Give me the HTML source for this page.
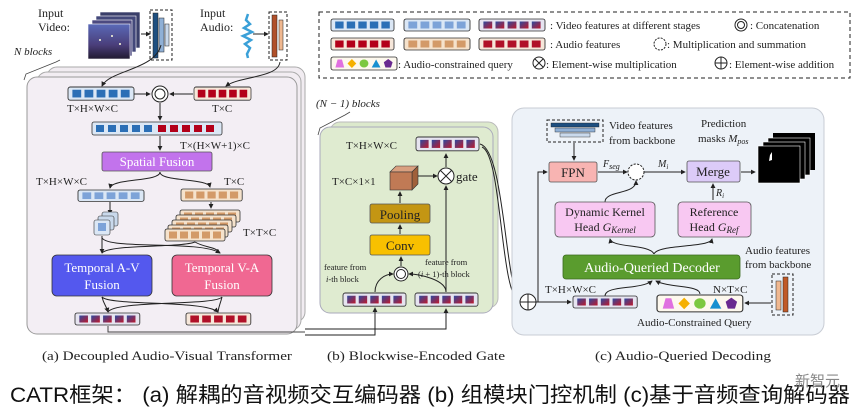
<!DOCTYPE html>
<html><head><meta charset="utf-8">
<style>
html,body{margin:0;padding:0;background:#fff;}
svg{display:block;}
text{font-family:"Liberation Serif","Noto Serif CJK SC",serif;fill:#222;}
.s{font-family:"Liberation Sans","Noto Sans CJK SC",sans-serif;}
</style></head><body>
<svg width="865" height="418" viewBox="0 0 865 418" xmlns="http://www.w3.org/2000/svg">
<defs>
<linearGradient id="mg" x1="0" y1="0" x2="1" y2="1"><stop offset="0" stop-color="#2c4aa0"/><stop offset="1" stop-color="#c0182a"/></linearGradient>
<linearGradient id="vid" x1="0" y1="0" x2="0" y2="1"><stop offset="0" stop-color="#5a6ab8"/><stop offset="0.6" stop-color="#4a3e7a"/><stop offset="1" stop-color="#201a30"/></linearGradient>
<marker id="ar" viewBox="0 0 6 6" refX="5" refY="3" markerWidth="5" markerHeight="5" orient="auto"><path d="M0,0L6,3L0,6z" fill="#222"/></marker>
<g id="vb"><rect x="0" y="0" width="60" height="12" rx="2" fill="#dbe7f5" stroke="#333" stroke-width="0.8"/><rect x="4" y="2.5" width="8" height="7" fill="#2b6fb6"/><rect x="15" y="2.5" width="8" height="7" fill="#2b6fb6"/><rect x="26" y="2.5" width="8" height="7" fill="#2b6fb6"/><rect x="37" y="2.5" width="8" height="7" fill="#2b6fb6"/><rect x="48" y="2.5" width="8" height="7" fill="#2b6fb6"/></g>
<g id="ab"><rect x="0" y="0" width="60" height="12" rx="2" fill="#f6e7da" stroke="#333" stroke-width="0.8"/><rect x="4" y="2.5" width="8" height="7" fill="#b3001a"/><rect x="15" y="2.5" width="8" height="7" fill="#b3001a"/><rect x="26" y="2.5" width="8" height="7" fill="#b3001a"/><rect x="37" y="2.5" width="8" height="7" fill="#b3001a"/><rect x="48" y="2.5" width="8" height="7" fill="#b3001a"/></g>
<g id="vt"><rect x="0" y="0" width="60" height="12" rx="2" fill="#dbe7f5" stroke="#333" stroke-width="0.8"/><rect x="4" y="2.5" width="8" height="7" fill="#7da3d8"/><rect x="15" y="2.5" width="8" height="7" fill="#7da3d8"/><rect x="26" y="2.5" width="8" height="7" fill="#7da3d8"/><rect x="37" y="2.5" width="8" height="7" fill="#7da3d8"/><rect x="48" y="2.5" width="8" height="7" fill="#7da3d8"/></g>
<g id="at"><rect x="0" y="0" width="60" height="12" rx="2" fill="#f5e2cc" stroke="#333" stroke-width="0.8"/><rect x="4" y="2.5" width="8" height="7" fill="#d39a68"/><rect x="15" y="2.5" width="8" height="7" fill="#d39a68"/><rect x="26" y="2.5" width="8" height="7" fill="#d39a68"/><rect x="37" y="2.5" width="8" height="7" fill="#d39a68"/><rect x="48" y="2.5" width="8" height="7" fill="#d39a68"/></g>
<g id="mb"><rect x="0" y="0" width="60" height="12" rx="2" fill="#e6e4f0" stroke="#333" stroke-width="0.8"/><rect x="4" y="2.5" width="8" height="7" fill="url(#mg)"/><rect x="15" y="2.5" width="8" height="7" fill="url(#mg)"/><rect x="26" y="2.5" width="8" height="7" fill="url(#mg)"/><rect x="37" y="2.5" width="8" height="7" fill="url(#mg)"/><rect x="48" y="2.5" width="8" height="7" fill="url(#mg)"/></g>
<g id="ab2"><rect x="0" y="0" width="60" height="12" rx="2" fill="#f6e7da" stroke="#333" stroke-width="0.8"/><rect x="4" y="2.5" width="8" height="7" fill="#b01028"/><rect x="15" y="2.5" width="8" height="7" fill="#b01028"/><rect x="26" y="2.5" width="8" height="7" fill="#b01028"/><rect x="37" y="2.5" width="8" height="7" fill="#b01028"/><rect x="48" y="2.5" width="8" height="7" fill="#b01028"/></g>
<g id="q"><rect x="0" y="0" width="60" height="13" rx="2" fill="#fdf8ee" stroke="#333" stroke-width="0.8"/><path d="M4,10.5L6,2.5H10L12,10.5z" fill="#e070e0"/><path d="M19,2L23,6.5L19,11L15,6.5z" fill="#f5b000"/><circle cx="30" cy="6.5" r="4" fill="#7cc840"/><path d="M41,2.5L45,10.5H37z" fill="#1890d0"/><path d="M52,2L56,5.2L54.5,10.5H49.5L48,5.2z" fill="#6a2a90"/></g>
</defs>

<!-- Legend -->
<rect x="319" y="12" width="531" height="66" fill="none" stroke="#222" stroke-dasharray="4,3"/>
<use href="#vb" transform="translate(331,19) scale(1.05,1)"/>
<use href="#vt" transform="translate(404,19) scale(1.1,1)"/>
<use href="#mb" transform="translate(479,19) scale(1.1,1)"/>
<text x="550" y="29" font-size="11">: Video features at different stages</text>
<circle cx="741" cy="25" r="6" fill="none" stroke="#222"/><circle cx="741" cy="25" r="3.5" fill="none" stroke="#222"/>
<text x="750" y="29" font-size="11">: Concatenation</text>
<use href="#ab" transform="translate(331,38) scale(1.05,1)"/>
<use href="#at" transform="translate(404,38) scale(1.1,1)"/>
<use href="#ab2" transform="translate(479,38) scale(1.1,1)"/>
<text x="550" y="48" font-size="11">: Audio features</text>
<circle cx="660" cy="44" r="6" fill="none" stroke="#222" stroke-dasharray="2,1.2"/>
<text x="667" y="48" font-size="11">: Multiplication and summation</text>
<use href="#q" transform="translate(331,57) scale(1.1,1)"/>
<text x="398" y="68" font-size="11">: Audio-constrained query</text>
<circle cx="539" cy="63" r="6" fill="none" stroke="#222"/><path d="M535,59L543,67M543,59L535,67" stroke="#222"/>
<text x="546" y="68" font-size="11">: Element-wise multiplication</text>
<circle cx="721" cy="63" r="6" fill="none" stroke="#222"/><path d="M715,63H727M721,57V69" stroke="#222"/>
<text x="729" y="68" font-size="11">: Element-wise addition</text>

<!-- Panel a -->
<text x="38" y="17" font-size="12">Input</text>
<text x="38" y="31" font-size="12">Video:</text>
<g stroke="#fff" stroke-width="0.6"><rect x="100" y="12" width="40" height="36" fill="#3a3f6a"/><rect x="96" y="16" width="40" height="36" fill="#43487a"/><rect x="92" y="20" width="40" height="36" fill="#4c4a80"/><rect x="88" y="24" width="42" height="35" fill="url(#vid)"/></g>
<circle cx="100" cy="40" r="1" fill="#ffd"/><circle cx="112" cy="36" r="1" fill="#ffd"/><circle cx="120" cy="44" r="1" fill="#ffd"/>
<path d="M141,34H150" stroke="#222" marker-end="url(#ar)"/>
<rect x="150" y="10" width="22" height="50" fill="none" stroke="#222" stroke-dasharray="3,2"/>
<rect x="153" y="13" width="5" height="45" fill="#1e4f80" stroke="#222" stroke-width="0.5"/>
<rect x="159" y="18" width="5" height="34" fill="#8fb0d6" stroke="#222" stroke-width="0.5"/>
<rect x="165" y="24" width="4" height="22" fill="#c9d9ec" stroke="#222" stroke-width="0.5"/>
<text x="200" y="17" font-size="12">Input</text>
<text x="200" y="31" font-size="12">Audio:</text>
<path d="M248,14L246,20L250,24L244,28L252,32L243,36L251,40L245,44L250,48L247,54L248,58" fill="none" stroke="#3aa0d8" stroke-width="2.5"/>
<path d="M253,34H268" stroke="#222" marker-end="url(#ar)"/>
<rect x="269" y="12" width="18" height="48" fill="none" stroke="#222" stroke-dasharray="3,2"/>
<rect x="272" y="15" width="5" height="42" fill="#b0502a" stroke="#222" stroke-width="0.5"/>
<rect x="279" y="20" width="4" height="30" fill="#f0b890" stroke="#222" stroke-width="0.5"/>
<text x="14" y="55" font-size="11" font-style="italic">N blocks</text>
<path d="M24,80L26,74L56,62L60,60" fill="none" stroke="#444" stroke-width="0.8"/>
<rect x="47" y="67" width="258" height="255" rx="10" fill="#f1ecf1" stroke="#aaa"/>
<rect x="37" y="72" width="264" height="258" rx="10" fill="#f2edf2" stroke="#aaa"/>
<rect x="27" y="77" width="270" height="257" rx="10" fill="#f3eef4" stroke="#999"/>
<path d="M161,45C155,70 110,70 102,86" fill="none" stroke="#222" marker-end="url(#ar)"/>
<path d="M280,62C278,78 240,76 226,86" fill="none" stroke="#222" marker-end="url(#ar)"/>
<use href="#vb" transform="translate(68,87) scale(1.1,1.1)"/>
<use href="#ab" transform="translate(194,87) scale(0.95,1.1)"/>
<path d="M134,94H150" stroke="#222" marker-end="url(#ar)"/>
<path d="M193,94H170" stroke="#222" marker-end="url(#ar)"/>
<circle cx="160" cy="94" r="8" fill="#fff" stroke="#222"/><circle cx="160" cy="94" r="5" fill="none" stroke="#222"/>
<text x="67" y="112" font-size="11">T×H×W×C</text>
<text x="212" y="112" font-size="11">T×C</text>
<path d="M160,103V120" stroke="#222" marker-end="url(#ar)"/>
<rect x="92" y="122" width="130" height="13" rx="2" fill="#dbe7f5" stroke="#333" stroke-width="0.8"/>
<rect x="96" y="125" width="8" height="7" fill="#2b6fb6"/><rect x="108" y="125" width="8" height="7" fill="#2b6fb6"/><rect x="120" y="125" width="8" height="7" fill="#2b6fb6"/><rect x="132" y="125" width="8" height="7" fill="#2b6fb6"/><rect x="144" y="125" width="8" height="7" fill="#2b6fb6"/>
<rect x="158" y="125" width="8" height="7" fill="#b3001a"/><rect x="170" y="125" width="8" height="7" fill="#b3001a"/><rect x="182" y="125" width="8" height="7" fill="#b3001a"/><rect x="194" y="125" width="8" height="7" fill="#b3001a"/><rect x="206" y="125" width="8" height="7" fill="#b3001a"/>
<text x="180" y="149" font-size="11">T×(H×W+1)×C</text>
<path d="M160,136V150" stroke="#222" marker-end="url(#ar)"/>
<rect x="102" y="152" width="110" height="19" rx="2" fill="#c273ec" stroke="#555" stroke-width="0.8"/>
<text x="157" y="166" font-size="13" text-anchor="middle" style="fill:#fff">Spatial Fusion</text>
<path d="M160,172C160,182 112,178 110,188" fill="none" stroke="#222" marker-end="url(#ar)"/>
<path d="M160,172C160,182 208,178 210,187" fill="none" stroke="#222" marker-end="url(#ar)"/>
<text x="36" y="185" font-size="11">T×H×W×C</text>
<text x="224" y="185" font-size="11">T×C</text>
<use href="#vt" transform="translate(78,190) scale(1.1,0.95)"/>
<use href="#at" transform="translate(181,189) scale(1.02,1)"/>
<path d="M110,202V214" stroke="#222" marker-end="url(#ar)"/>
<path d="M211,202V208" stroke="#222" marker-end="url(#ar)"/>
<rect x="102" y="212" width="16" height="14" rx="2" fill="#c9d9ec" stroke="#333" stroke-width="0.6"/>
<rect x="98" y="216" width="16" height="14" rx="2" fill="#c9d9ec" stroke="#333" stroke-width="0.6"/>
<rect x="94" y="220" width="16" height="15" rx="2" fill="#dbe7f5" stroke="#333" stroke-width="0.6"/><rect x="98" y="223" width="8" height="8" fill="#7da3d8"/>
<use href="#at" transform="translate(180,210)"/>
<use href="#at" transform="translate(176,215)"/>
<use href="#at" transform="translate(172,220)"/>
<use href="#at" transform="translate(168,225)"/>
<use href="#at" transform="translate(165,229)"/>
<text x="243" y="236" font-size="11">T×T×C</text>
<path d="M102,236V253" stroke="#222" marker-end="url(#ar)"/>
<path d="M102,238C110,250 200,240 220,253" fill="none" stroke="#222" marker-end="url(#ar)"/>
<path d="M195,242C180,248 110,244 102,253" fill="none" stroke="#222"/>
<path d="M195,242C205,248 215,246 220,253" fill="none" stroke="#222"/>
<rect x="52" y="255" width="100" height="41" rx="5" fill="#5458ee" stroke="#333" stroke-width="0.8"/>
<text x="102" y="272" font-size="13" text-anchor="middle" style="fill:#fff">Temporal A-V</text>
<text x="102" y="289" font-size="13" text-anchor="middle" style="fill:#fff">Fusion</text>
<rect x="172" y="255" width="100" height="41" rx="5" fill="#f06892" stroke="#333" stroke-width="0.8"/>
<text x="222" y="272" font-size="13" text-anchor="middle" style="fill:#fff">Temporal V-A</text>
<text x="222" y="289" font-size="13" text-anchor="middle" style="fill:#fff">Fusion</text>
<path d="M102,297C104,305 106,305 108,312" fill="none" stroke="#222" marker-end="url(#ar)"/>
<path d="M102,297C110,306 205,300 218,312" fill="none" stroke="#222" marker-end="url(#ar)"/>
<path d="M222,297C215,306 115,300 108,312" fill="none" stroke="#222"/>
<path d="M222,297C220,305 219,305 218,312" fill="none" stroke="#222"/>
<use href="#mb" transform="translate(75,313) scale(1.08,1)"/>
<use href="#ab2" transform="translate(186,313) scale(1.08,1)"/>
<path d="M108,326V332H305" fill="none" stroke="#444"/>

<!-- Panel b -->
<text x="316" y="107" font-size="11" font-style="italic">(N − 1) blocks</text>
<path d="M318,135L320,128L345,115L350,112" fill="none" stroke="#444" stroke-width="0.8"/>
<rect x="330" y="122" width="168" height="186" rx="10" fill="#dce9cc" stroke="#bbb"/>
<rect x="320" y="127" width="173" height="186" rx="10" fill="#dfebd0" stroke="#aab"/>
<use href="#mb" transform="translate(416,137) scale(1.05,1.15)"/>
<text x="346" y="149" font-size="11">T×H×W×C</text>
<path d="M390,172L396,166H418L412,172z" fill="#d9a080" stroke="#333" stroke-width="0.6"/>
<path d="M412,172L418,166V184L412,190z" fill="#a0603a" stroke="#333" stroke-width="0.6"/>
<rect x="390" y="172" width="22" height="18" fill="#c07a55" stroke="#333" stroke-width="0.6"/>
<text x="332" y="185" font-size="11">T×C×1×1</text>
<path d="M418,176H437" stroke="#222" marker-end="url(#ar)"/>
<circle cx="446" cy="176" r="8" fill="#fff" stroke="#222"/><path d="M440.5,170.5L451.5,181.5M451.5,170.5L440.5,181.5" stroke="#222"/>
<text x="456" y="181" font-size="13">gate</text>
<path d="M446,167V154" stroke="#222" marker-end="url(#ar)"/>
<path d="M446,292V186" stroke="#222" marker-end="url(#ar)"/>
<path d="M400,203V192" stroke="#222" marker-end="url(#ar)"/>
<rect x="370" y="204" width="60" height="19" rx="2" fill="#c49613" stroke="#555" stroke-width="0.8"/>
<text x="400" y="219" font-size="13" text-anchor="middle">Pooling</text>
<path d="M400,234V225" stroke="#222" marker-end="url(#ar)"/>
<rect x="370" y="235" width="60" height="20" rx="2" fill="#f8c000" stroke="#555" stroke-width="0.8"/>
<text x="400" y="250" font-size="13" text-anchor="middle">Conv</text>
<path d="M401,266V257" stroke="#222" marker-end="url(#ar)"/>
<circle cx="401" cy="274" r="7" fill="#fff" stroke="#222"/><circle cx="401" cy="274" r="4.5" fill="none" stroke="#222"/>
<path d="M375,292C375,280 385,274 393,274" fill="none" stroke="#222" marker-end="url(#ar)"/>
<path d="M446,292C446,280 420,274 409,274" fill="none" stroke="#222" marker-end="url(#ar)"/>
<text x="324" y="270" font-size="8.5">feature from</text>
<text x="326" y="282" font-size="8.5"><tspan font-style="italic">i</tspan>-th block</text>
<text x="425" y="265" font-size="8.5">feature from</text>
<text x="418" y="277" font-size="8.5">(<tspan font-style="italic">i</tspan> + 1)-th block</text>
<use href="#mb" transform="translate(343,293) scale(1.05,1.1)"/>
<use href="#mb" transform="translate(415,293) scale(1.05,1.1)"/>
<path d="M305,335H375V308" fill="none" stroke="#222" marker-end="url(#ar)"/>
<path d="M305,329H446V309" fill="none" stroke="#222" marker-end="url(#ar)"/>
<path d="M480,144C505,150 505,290 520,300" fill="none" stroke="#222" stroke-width="1"/>
<path d="M482,147C502,155 500,292 519,302" fill="none" stroke="#222" stroke-width="1" marker-end="url(#ar)"/>

<!-- Panel c -->
<rect x="512" y="108" width="312" height="227" rx="12" fill="#edf2f8" stroke="#c8ccd4"/>
<rect x="547" y="120" width="56" height="22" fill="none" stroke="#222" stroke-dasharray="3,2"/>
<rect x="551" y="123" width="48" height="4" fill="#1e4f80" stroke="#222" stroke-width="0.4"/>
<rect x="555" y="128" width="40" height="4" fill="#8fb0d6" stroke="#222" stroke-width="0.4"/>
<rect x="560" y="133" width="30" height="4" fill="#c9d9ec" stroke="#222" stroke-width="0.4"/>
<text x="609" y="129" font-size="11">Video features</text>
<text x="609" y="144" font-size="11">from backbone</text>
<text x="701" y="127" font-size="11">Prediction</text>
<text x="698" y="142" font-size="11">masks <tspan font-style="italic">M</tspan><tspan font-size="8" font-style="italic" dy="2">pos</tspan></text>
<path d="M574,143V160" stroke="#222" marker-end="url(#ar)"/>
<rect x="549" y="162" width="48" height="20" rx="2" fill="#f8b4b2" stroke="#555" stroke-width="0.8"/>
<text x="573" y="177" font-size="13" text-anchor="middle">FPN</text>
<text x="603" y="167" font-size="10" font-style="italic">F<tspan font-size="8" dy="2">seg</tspan></text>
<path d="M598,172H627" stroke="#222" marker-end="url(#ar)"/>
<circle cx="636" cy="172" r="8" fill="#fff" stroke="#222" stroke-dasharray="2.2,1.3"/>
<text x="658" y="167" font-size="10" font-style="italic">M<tspan font-size="7" dy="2">i</tspan></text>
<path d="M644,172H685" stroke="#222" marker-end="url(#ar)"/>
<rect x="687" y="161" width="53" height="21" rx="2" fill="#dccbf8" stroke="#555" stroke-width="0.8"/>
<text x="713" y="176" font-size="13" text-anchor="middle">Merge</text>
<path d="M741,172H755" stroke="#222" marker-end="url(#ar)"/>
<rect x="773" y="133" width="42" height="37" fill="#000"/>
<rect x="768" y="138" width="42" height="37" fill="#000" stroke="#fff" stroke-width="0.6"/>
<rect x="763" y="142" width="42" height="37" fill="#000" stroke="#fff" stroke-width="0.6"/>
<rect x="758" y="146" width="42" height="37" fill="#000" stroke="#fff" stroke-width="0.6"/>
<path d="M770,155L772,152L772,160L769,161z" fill="#fff"/>
<path d="M713,200V184" stroke="#222" marker-end="url(#ar)"/>
<text x="716" y="196" font-size="10" font-style="italic">R<tspan font-size="7" dy="2">i</tspan></text>
<path d="M605,202C605,190 636,195 636,181" fill="none" stroke="#222" marker-end="url(#ar)"/>
<rect x="555" y="202" width="100" height="35" rx="4" fill="#f8c8f2" stroke="#555" stroke-width="0.8"/>
<text x="605" y="216" font-size="12" text-anchor="middle">Dynamic Kernel</text>
<text x="605" y="231" font-size="12" text-anchor="middle">Head <tspan font-style="italic">G</tspan><tspan font-size="9" font-style="italic" dy="2">Kernel</tspan></text>
<rect x="678" y="202" width="73" height="35" rx="4" fill="#f8c8f2" stroke="#555" stroke-width="0.8"/>
<text x="714" y="216" font-size="12" text-anchor="middle">Reference</text>
<text x="714" y="231" font-size="12" text-anchor="middle">Head <tspan font-style="italic">G</tspan><tspan font-size="9" font-style="italic" dy="2">Ref</tspan></text>
<path d="M654,254C650,244 612,248 610,239" fill="none" stroke="#222" marker-end="url(#ar)"/>
<path d="M654,254C658,244 710,248 712,239" fill="none" stroke="#222" marker-end="url(#ar)"/>
<rect x="563" y="255" width="177" height="24" rx="3" fill="#5a9c2e" stroke="#3a6a1e" stroke-width="0.8"/>
<text x="652" y="272" font-size="14" text-anchor="middle" style="fill:#fff">Audio-Queried  Decoder</text>
<text x="745" y="254" font-size="11">Audio features</text>
<text x="745" y="268" font-size="11">from backbone</text>
<text x="545" y="293" font-size="11">T×H×W×C</text>
<text x="713" y="293" font-size="11">N×T×C</text>
<path d="M605,296C605,285 640,290 652,281" fill="none" stroke="#222" marker-end="url(#ar)"/>
<path d="M700,294C700,285 670,288 656,281" fill="none" stroke="#222" marker-end="url(#ar)"/>
<circle cx="528" cy="302" r="8" fill="#fff" stroke="#222"/><path d="M520,302H536M528,294V310" stroke="#222"/>
<path d="M536,302H571" stroke="#222" marker-end="url(#ar)"/>
<path d="M538,302V172H547" fill="none" stroke="#222" marker-end="url(#ar)"/>
<use href="#mb" transform="translate(573,296) scale(1.07,1)"/>
<use href="#q" transform="translate(657,295) scale(1.43,1.3)"/>
<path d="M771,303H745" stroke="#222" marker-end="url(#ar)"/>
<rect x="772" y="274" width="21" height="41" fill="none" stroke="#222" stroke-dasharray="3,2"/>
<rect x="776" y="281" width="5" height="29" fill="#f0b890" stroke="#222" stroke-width="0.5"/>
<rect x="783" y="277" width="5" height="35" fill="#c05a28" stroke="#222" stroke-width="0.5"/>
<text x="637" y="326" font-size="11">Audio-Constrained Query</text>

<!-- Captions -->
<text x="42" y="360" font-size="13" textLength="250" lengthAdjust="spacingAndGlyphs">(a) Decoupled Audio-Visual Transformer</text>
<text x="327" y="360" font-size="13" textLength="178" lengthAdjust="spacingAndGlyphs">(b) Blockwise-Encoded Gate</text>
<text x="595" y="360" font-size="13" textLength="176" lengthAdjust="spacingAndGlyphs">(c) Audio-Queried Decoding</text>
<text class="s" x="10" y="402" font-size="21" textLength="840" lengthAdjust="spacingAndGlyphs" style="fill:#111">CATR框架： (a) 解耦的音视频交互编码器  (b) 组模块门控机制  (c)基于音频查询解码器</text>
<text class="s" x="795" y="386" font-size="15" style="fill:#888">新智元</text>
</svg>
</body></html>
